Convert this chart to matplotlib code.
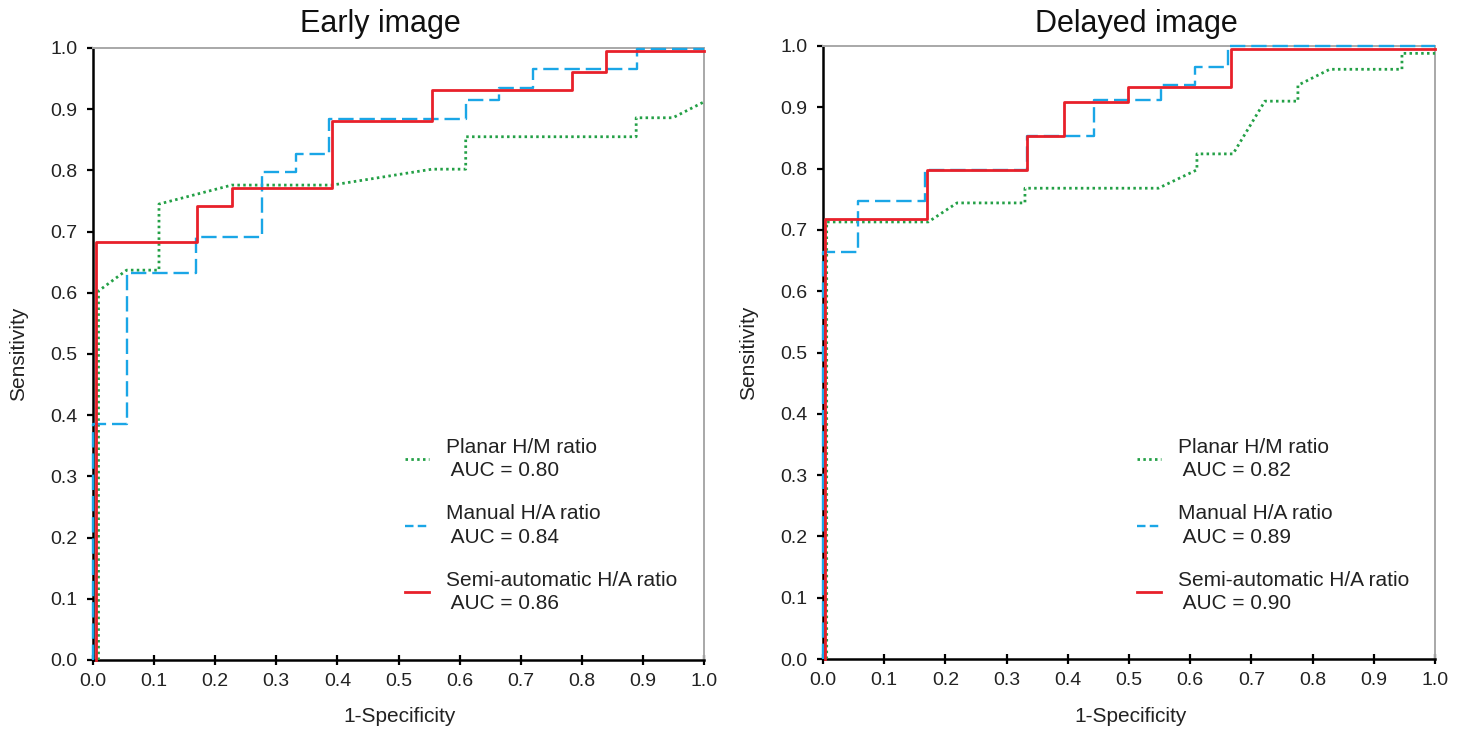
import matplotlib
matplotlib.use("Agg")
import matplotlib.pyplot as plt
from matplotlib.lines import Line2D

plt.rcParams['font.family'] = ['Liberation Sans', 'DejaVu Sans']

# ---------------- data ----------------
titles = ["Early image", "Delayed image"]
tick_values = [0.0, 0.1, 0.2, 0.3, 0.4, 0.5, 0.6, 0.7, 0.8, 0.9, 1.0]
tick_labels = ["0.0", "0.1", "0.2", "0.3", "0.4", "0.5", "0.6", "0.7", "0.8", "0.9", "1.0"]
series_names = ["Planar H/M ratio", "Manual H/A ratio", "Semi-automatic H/A ratio"]
early_auc = ["0.80", "0.84", "0.86"]
delayed_auc = ["0.82", "0.89", "0.90"]

# Early image
early_planar_fpr = [0.009, 0.009, 0.055, 0.108, 0.108, 0.227, 0.391, 0.555, 0.610, 0.610, 0.889, 0.889, 0.949, 1.0]
early_planar_tpr = [0.0, 0.603, 0.637, 0.637, 0.745, 0.776, 0.776, 0.802, 0.802, 0.855, 0.855, 0.886, 0.886, 0.912]
early_manual_fpr = [0.0, 0.0, 0.055, 0.168, 0.277, 0.333, 0.386, 0.610, 0.664, 0.720, 0.890, 1.0]
early_manual_tpr = [0.0, 0.385, 0.633, 0.691, 0.797, 0.827, 0.884, 0.915, 0.935, 0.966, 0.998, 0.998]
early_semi_fpr = [0.005, 0.005, 0.170, 0.227, 0.391, 0.555, 0.784, 0.840, 1.0]
early_semi_tpr = [0.0, 0.683, 0.742, 0.771, 0.881, 0.931, 0.961, 0.995, 0.995]

# Delayed image
delayed_planar_fpr = [0.006, 0.006, 0.172, 0.219, 0.330, 0.330, 0.548, 0.611, 0.611, 0.670, 0.722, 0.776, 0.776, 0.828, 0.946, 0.946, 1.0]
delayed_planar_tpr = [0.0, 0.713, 0.713, 0.744, 0.744, 0.768, 0.768, 0.798, 0.824, 0.824, 0.910, 0.910, 0.936, 0.962, 0.962, 0.988, 0.988]
delayed_manual_fpr = [0.0, 0.0, 0.057, 0.167, 0.333, 0.443, 0.552, 0.608, 0.662, 1.0]
delayed_manual_tpr = [0.0, 0.664, 0.747, 0.798, 0.853, 0.912, 0.936, 0.966, 1.0, 1.0]
delayed_semi_fpr = [0.003, 0.003, 0.170, 0.333, 0.394, 0.498, 0.667, 1.0]
delayed_semi_tpr = [0.0, 0.718, 0.798, 0.853, 0.909, 0.933, 0.995, 0.995]

# ---------------- styling ----------------
GREEN = "#23a046"
BLUE = "#1aa6e6"
RED = "#e8202a"
W, H = 1467, 729

fig = plt.figure(figsize=(W / 100, H / 100), dpi=100)

panels = [
    dict(rect=(93, 48, 704, 660), title_x=380,
         planar=(early_planar_fpr, early_planar_tpr),
         manual=(early_manual_fpr, early_manual_tpr),
         semi=(early_semi_fpr, early_semi_tpr),
         auc=early_auc, leg=(0.511, 0.220)),
    dict(rect=(823, 46, 1435, 659), title_x=1136,
         planar=(delayed_planar_fpr, delayed_planar_tpr),
         manual=(delayed_manual_fpr, delayed_manual_tpr),
         semi=(delayed_semi_fpr, delayed_semi_tpr),
         auc=delayed_auc, leg=(0.513, 0.218)),
]

for i, p in enumerate(panels):
    x0, y0, x1, y1 = p["rect"]
    ax = fig.add_axes([x0 / W, 1 - y1 / H, (x1 - x0) / W, (y1 - y0) / H])
    ax.set_xlim(0, 1)
    ax.set_ylim(0, 1)

    ax.plot(p["planar"][0], p["planar"][1], color=GREEN, lw=2.0,
            linestyle=(0, (0.9, 1.2)), clip_on=False, zorder=3)
    ax.plot(p["manual"][0], p["manual"][1], color=BLUE, lw=1.7,
            linestyle=(0, (6.5, 2.5)), drawstyle="steps-post", clip_on=False, zorder=4)
    ax.plot(p["semi"][0], p["semi"][1], color=RED, lw=2.0,
            drawstyle="steps-post", clip_on=False, zorder=5)

    for side in ("left", "bottom"):
        ax.spines[side].set_color("black")
        ax.spines[side].set_linewidth(1.8)
    for side in ("top", "right"):
        ax.spines[side].set_color("#a8a8a8")
        ax.spines[side].set_linewidth(1.4)

    ax.set_xticks(tick_values)
    ax.set_xticklabels(tick_labels)
    ax.set_yticks(tick_values)
    ax.set_yticklabels(tick_labels)
    ax.tick_params(axis="x", direction="inout", length=7, width=1.6, pad=6, labelsize=14, colors="black")
    ax.tick_params(axis="y", direction="out", length=4, width=1.6, pad=7, labelsize=14, colors="black")
    for lab in ax.get_xticklabels() + ax.get_yticklabels():
        lab.set_color("#222222")

    ax.set_xlabel("1-Specificity", fontsize=15, color="#222222")
    ax.set_ylabel("Sensitivity", fontsize=15, color="#222222")
    ax.xaxis.set_label_coords(0.502, -0.093)
    ax.xaxis.label.set_verticalalignment("center")
    ax.yaxis.set_label_coords(-0.122, 0.5)
    ax.yaxis.label.set_verticalalignment("center")

    handles = [
        Line2D([], [], color=GREEN, lw=2.0, linestyle=(0, (0.9, 1.2))),
        Line2D([], [], color=BLUE, lw=1.7, linestyle=(0, (3.6, 1.8))),
        Line2D([], [], color=RED, lw=2.0),
    ]
    labels = [f"{n}\n AUC = {a}" for n, a in zip(series_names, p["auc"])]
    leg = ax.legend(handles, labels, loc="center left", bbox_to_anchor=p["leg"],
                    frameon=False, fontsize=15, handlelength=1.15, handletextpad=0.8,
                    labelspacing=1.15, borderpad=0, borderaxespad=0, labelcolor="#222222")
    for t in leg.get_texts():
        t.set_linespacing(1.3)

    fig.text(p["title_x"] / W, 1 - 32 / H, titles[i], ha="center", va="baseline",
             fontsize=22, color="#111111")

fig.savefig("out.png", dpi=100, facecolor="white")
